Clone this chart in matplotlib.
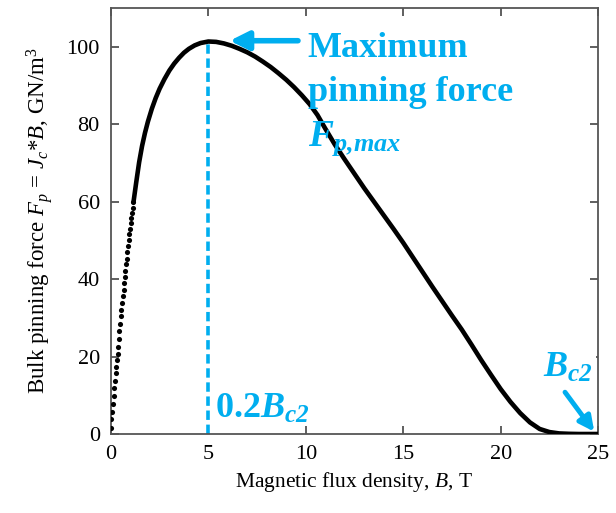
import matplotlib
matplotlib.use('Agg')
import matplotlib.pyplot as plt

plt.rcParams['font.family'] = ['Liberation Serif', 'DejaVu Serif']
plt.rcParams['mathtext.fontset'] = 'custom'
plt.rcParams['mathtext.rm'] = 'Liberation Serif'
plt.rcParams['mathtext.it'] = 'Liberation Serif:italic'
plt.rcParams['mathtext.bf'] = 'Liberation Serif:bold'
plt.rcParams['mathtext.bfit'] = 'Liberation Serif:italic:bold'

# upper critical field and peak of the curve
Bc2 = 25
Fp_max = 101.4

# low-field part, drawn as separate dots (B in T, Fp in GN/m^3)
B_dots = [0.00, 0.03, 0.07, 0.10, 0.14, 0.17, 0.20, 0.24, 0.27, 0.31, 0.34, 0.37,
          0.41, 0.44, 0.48, 0.51, 0.54, 0.58, 0.61, 0.65, 0.68, 0.71, 0.75, 0.78,
          0.82, 0.85, 0.88, 0.92, 0.95, 0.99, 1.02, 1.05, 1.09, 1.12, 1.16]
F_dots = [1.6, 3.8, 5.7, 7.8, 9.8, 11.8, 13.8, 15.7, 17.4, 19.2, 20.7, 22.6,
          24.5, 26.5, 28.5, 30.4, 32.1, 33.9, 35.6, 37.1, 38.9, 40.6, 42.2, 43.8,
          45.3, 47.0, 48.5, 50.1, 51.6, 53.0, 54.4, 55.8, 57.2, 58.5, 59.9]

# rest of the curve, where the dots merge into a line
B_line = [1.16, 1.3, 1.45, 1.6, 1.75, 1.9, 2.1, 2.3, 2.5, 2.75, 3.0, 3.25, 3.5, 3.75,
          4.0, 4.3, 4.6, 5.0, 5.4, 5.8, 6.2, 6.6, 7.0, 7.4, 7.8, 8.2, 8.6, 9.0, 9.4,
          9.8, 10.2, 10.6, 11.0, 11.5, 12.0, 12.5, 13.0, 13.5, 14.0, 14.5, 15.0, 15.5,
          16.0, 16.5, 17.0, 17.5, 18.0, 18.5, 19.0, 19.5, 20.0, 20.5, 21.0, 21.5, 22.0,
          22.5, 23.0, 23.5, 24.0, 25.0]
F_line = [59.9, 65.0, 70.2, 74.4, 77.8, 80.7, 84.0, 86.8, 89.2, 91.7, 93.9, 95.7, 97.2, 98.5,
          99.5, 100.4, 101.0, 101.4, 101.3, 100.9, 100.3, 99.5, 98.6, 97.5, 96.2, 94.8, 93.2,
          91.5, 89.6, 87.5, 85.2, 82.4, 78.9, 74.7, 70.9, 67.2, 63.5, 60.0, 56.5, 53.0, 49.4,
          45.6, 41.8, 38.0, 34.3, 30.6, 27.0, 23.1, 19.1, 15.3, 11.6, 8.3, 5.4, 3.0, 1.3,
          0.5, 0.15, 0.05, 0.0, 0.0]

blue = '#00AEEF'

fig = plt.figure(figsize=(6.16, 5.13), dpi=100)
ax = fig.add_axes([0.180, 0.154, 0.791, 0.830])

ax.plot(B_dots, F_dots, 'o', color='black', ms=3.7, mew=0, zorder=3)
ax.plot(B_line, F_line, '-', color='black', lw=3.3, solid_capstyle='round',
        solid_joinstyle='round', zorder=3)

# 0.2 Bc2 marker
ax.vlines(0.2 * Bc2, 0, Fp_max, colors=blue, lw=2.6, linestyles=(0, (2.6, 1.3)), zorder=2)

ax.set_xlim(0, 25)
ax.set_ylim(0, 110)
ax.set_xticks([0, 5, 10, 15, 20, 25])
ax.set_yticks([0, 20, 40, 60, 80, 100])
ax.tick_params(direction='in', length=6, width=1.2, colors='#444444', labelcolor='black',
               labelsize=16, top=True, right=True, pad=8)
for s in ax.spines.values():
    s.set_color('#555555')
    s.set_linewidth(1.3)

ax.set_xlabel('Magnetic flux density, $B$, T', fontsize=15.5, labelpad=4)
ax.set_ylabel('Bulk pinning force $F_p$ = $J_c$*$B$, GN/m$^3$', fontsize=16.5, labelpad=8)

# annotations
ax.annotate('', xy=(6.1, 101.6), xytext=(9.6, 101.6),
            arrowprops=dict(arrowstyle='-|>', color=blue, lw=4, mutation_scale=28,
                            shrinkA=0, shrinkB=0))
ax.text(10.1, 97.4, 'Maximum', color=blue, fontsize=26, fontweight='bold', va='baseline')
ax.text(10.1, 86.0, 'pinning force', color=blue, fontsize=26, fontweight='bold', va='baseline')
ax.text(10.1, 74.4, r'$\mathbfit{F}_{\mathbfit{p{,}max}}$', color=blue, fontsize=27,
        va='baseline')

ax.text(5.34, 4.1, r'$\mathbf{0.2}\mathbfit{B}_{\mathbfit{c2}}$', color=blue, fontsize=26,
        va='baseline')
ax.text(22.18, 14.8, r'$\mathbfit{B}_{\mathbfit{c2}}$', color=blue, fontsize=26, va='baseline',
        bbox=dict(facecolor='white', edgecolor='none', pad=2), zorder=5, clip_on=False)
ax.annotate('', xy=(24.8, 0.6), xytext=(23.3, 10.8),
            arrowprops=dict(arrowstyle='-|>', color=blue, lw=3.5, mutation_scale=22,
                            shrinkA=0, shrinkB=0), zorder=6)

fig.savefig('out.png', dpi=100)
